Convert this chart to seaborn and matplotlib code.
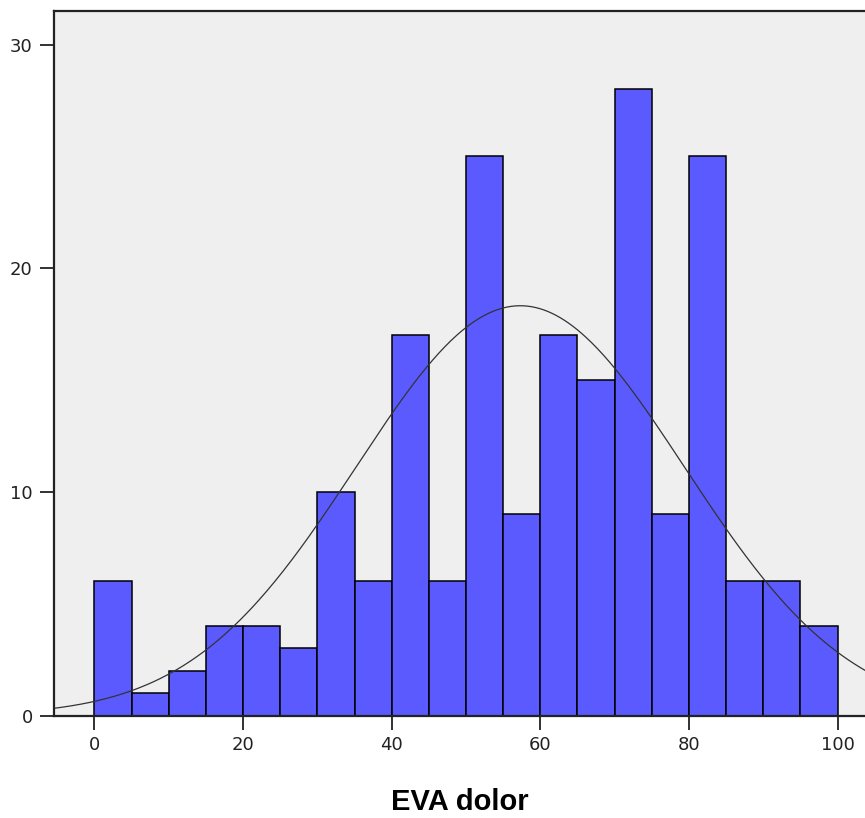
import numpy as np
import pandas as pd
import seaborn as sns
import matplotlib.pyplot as plt

# bin edges (width 5) and counts
bin_edges = list(range(0, 105, 5))
counts = [6, 1, 2, 4, 4, 3, 10, 6, 17, 6, 25, 9, 17, 15, 28, 9, 25, 6, 6, 4]

# fitted normal curve parameters
curve_mean = 57.3
curve_sd = 22.1

x_ticks = [0, 20, 40, 60, 80, 100]
y_ticks = [0, 10, 20, 30]

mids = [e + 2.5 for e in bin_edges[:-1]]
df = pd.DataFrame({"EVA dolor": mids, "n": counts})

sns.set_style("white")
plt.rcParams["font.family"] = ["DejaVu Sans"]

fig = plt.figure(figsize=(8.65, 8.18), dpi=100)
ax = fig.add_axes([0.062, 0.1252, 0.938, 0.8614])
ax.set_facecolor("#efefef")

sns.histplot(data=df, x="EVA dolor", weights="n", bins=bin_edges,
             color="#5a5aff", alpha=1, edgecolor="black", linewidth=1.1, ax=ax)

# normal curve scaled to counts
xs = np.linspace(-6, 105, 400)
area = sum(counts) * 5
ys = area / (curve_sd * np.sqrt(2 * np.pi)) * np.exp(-0.5 * ((xs - curve_mean) / curve_sd) ** 2)
sns.lineplot(x=xs, y=ys, color="#333333", linewidth=0.9, ax=ax)

ax.set_xlim(-5.5, 103.7)
ax.set_ylim(0, 31.5)
ax.set_xticks(x_ticks)
ax.set_yticks(y_ticks)
ax.tick_params(axis="both", direction="out", length=10, width=1.3, color="#222222",
               labelsize=13, labelcolor="#222222", pad=5)
ax.tick_params(axis="x", bottom=True)
ax.tick_params(axis="y", left=True)

for side in ["top", "left", "bottom"]:
    ax.spines[side].set_color("#222222")
    ax.spines[side].set_linewidth(1.6)
ax.spines["right"].set_visible(False)

ax.set_ylabel("")
ax.set_xlabel("EVA dolor", fontsize=21, fontweight="bold", color="black",
              family="Liberation Sans", labelpad=24)

fig.savefig("out.png", dpi=100)
